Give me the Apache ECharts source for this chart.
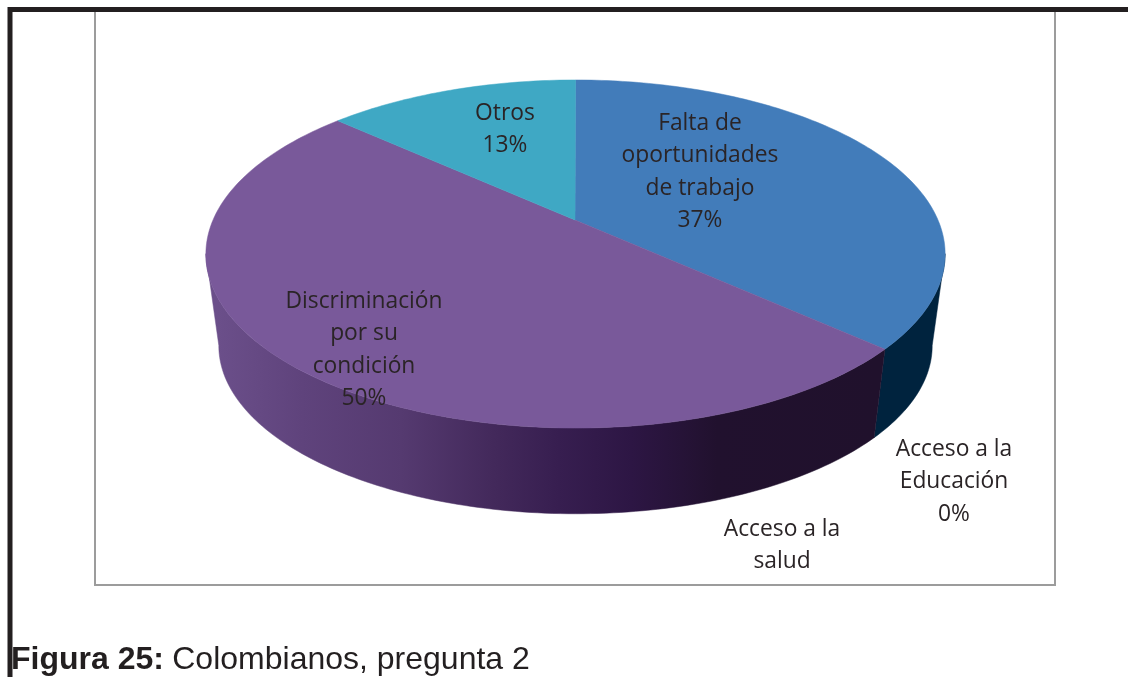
<!DOCTYPE html>
<html>
<head>
<meta charset="utf-8">
<style>html,body{margin:0;padding:0;background:#fff}#c{width:1128px;height:677px}</style>
<script src="https://cdn.jsdelivr.net/npm/echarts@6/dist/echarts.min.js"></script>
</head>
<body>
<div id="c"></div>
<script>
// ---- data, clockwise from 12 o'clock ----
const categories = ['Falta de\noportunidades\nde trabajo', 'Acceso a la\nEducación', 'Acceso a la\nsalud', 'Discriminación\npor su\ncondición', 'Otros'];
const values = [36.7, 0, 0, 50, 13.3];
const percentShown = [true, true, false, true, true];

// ---- styling and layout ----
const topColors = ['#427cba', '#427cba', '#79599a', '#79599a', '#3fa8c4'];
const purpleSide = {
  type: 'linear', x: 217, y: 0, x2: 875, y2: 0, global: true,
  colorStops: [
    {offset: 0, color: '#6b4f8a'}, {offset: 0.13, color: '#5f437c'},
    {offset: 0.28, color: '#553a70'}, {offset: 0.42, color: '#43295b'},
    {offset: 0.52, color: '#371e50'}, {offset: 0.63, color: '#2d1644'},
    {offset: 0.76, color: '#21112e'}, {offset: 1, color: '#20112c'}
  ]
};
const sideColors = ['#00233e', '#00233e', purpleSide, purpleSide, '#2a7f95'];
const labelPos = [[700, 172], [954, 482], [782, 545.5], [364, 350], [505, 129.5]];

// perspective disc model
const CX = 575.5, CY = 220, A = 362.5, B = 167.4, P = 0.1954, SCALE = 0.965, DEPTH = 93;
const SIDE_FROM = 0.281, SIDE_TO = 0.719;
function project(frac, bottom) {
  const t = frac * 2 * Math.PI, u = Math.sin(t), v = Math.cos(t), w = 1 + P * v;
  const s = bottom ? SCALE : 1;
  return [CX + s * A * u / w, CY - s * B * v / w + (bottom ? DEPTH : 0)];
}
function arc(a, b, bottom) {
  const n = Math.max(2, Math.ceil((b - a) * 360)), pts = [];
  for (let i = 0; i <= n; i++) pts.push(project(a + (b - a) * i / n, bottom));
  return pts;
}

const total = values.reduce((s, v) => s + v, 0);
let running = 0;
const rows = values.map((v, i) => {
  const r = [running / total, (running + v) / total, i];
  running += v;
  return r;
});

function renderItem(params, api) {
  const a = api.value(0), b = api.value(1), i = api.value(2);
  const children = [];
  if (b > a) {
    const sa = Math.max(a, SIDE_FROM), sb = Math.min(b, SIDE_TO);
    if (sb > sa) {
      const side = arc(sa, sb, false).concat(arc(sa, sb, true).reverse());
      children.push({type: 'polygon', z2: 1, shape: {points: side},
        style: {fill: sideColors[i], stroke: sideColors[i], lineWidth: 0.5}});
    }
    const top = [[CX - 0.5, CY]].concat(arc(a, b, false));
    children.push({type: 'polygon', z2: 2, shape: {points: top},
      style: {fill: topColors[i], stroke: topColors[i], lineWidth: 0.5}});
  }
  const text = categories[i] + (percentShown[i] ? '\n' + Math.round(values[i]) + '%' : '');
  children.push({type: 'text', z2: 3, x: labelPos[i][0], y: labelPos[i][1],
    style: {text: text, fill: '#2a2426', font: '22.8px "Open Sans"', lineHeight: 32.3,
      align: 'center', verticalAlign: 'middle'}});
  return {type: 'group', children: children};
}

const chart = echarts.init(document.getElementById('c'), null, {renderer: 'canvas'});
chart.setOption({
  animation: false,
  backgroundColor: '#ffffff',
  graphic: [
    {type: 'polyline', z: 0, shape: {points: [[95, 12], [95, 585], [1055, 585], [1055, 12]]},
      style: {fill: null, stroke: '#9c9c9c', lineWidth: 2}},
    {type: 'polyline', z: 0, shape: {points: [[10, 677], [10, 9.5], [1128, 9.5]]},
      style: {fill: null, stroke: '#231f20', lineWidth: 5}},
    {type: 'text', z: 10, x: 11, y: 660,
      style: {
        text: '{b|Figura 25:} {r|Colombianos, pregunta 2}',
        verticalAlign: 'middle',
        rich: {
          b: {font: 'bold 32px "Liberation Sans"', fill: '#231f20'},
          r: {font: '32px "Liberation Sans"', fill: '#231f20', padding: [0, 0, 0, 5]}
        }
      }}
  ],
  series: [{type: 'custom', coordinateSystem: 'none', renderItem: renderItem, data: rows, silent: true, clip: false}]
});
</script>
</body>
</html>
